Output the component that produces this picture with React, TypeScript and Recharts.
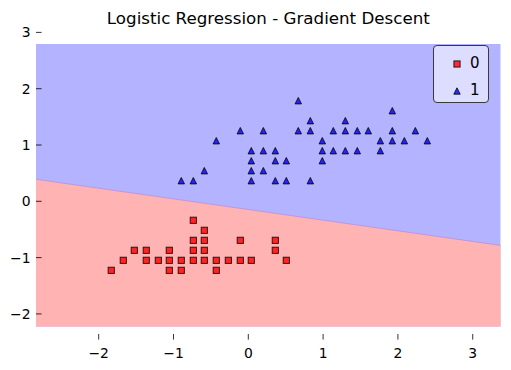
import React from "react";
import { ComposedChart, Area, Scatter, XAxis, YAxis } from "recharts";

// decision region extent (meshgrid range) and the boundary
const meshX = [-2.838, 3.374];
const meshTop = 2.794;
const meshBottom = -2.227;
const boundaryY = [0.391, -0.783];

const xTicks = [-2, -1, 0, 1, 2, 3];
const yTicks = [-2, -1, 0, 1, 2, 3];
const legendLabels = ["0", "1"];

// class 0 (squares)
const class0X = [
  -0.735, -0.588, -0.735, -0.588, -0.107, 0.361, -1.524, -1.364, -1.056,
  -0.735, -0.588, 0.361, -1.671, -1.364, -1.203, -1.056, -0.896, -0.735,
  -0.588, -0.428, -0.267, -0.107, 0.04, 0.508, -1.832, -1.056, -0.896, -0.428,
];
const class0Y = [
  -0.337, -0.515, -0.693, -0.693, -0.693, -0.693, -0.87, -0.87, -0.87, -0.87,
  -0.87, -0.87, -1.048, -1.048, -1.048, -1.048, -1.048, -1.048, -1.048,
  -1.048, -1.048, -1.048, -1.048, -1.048, -1.226, -1.226, -1.226, -1.226,
];

// class 1 (triangles)
const class1X = [
  0.668, 1.925, 0.829, 1.297, -0.107, 0.201, 0.668, 0.829, 1.136, 1.297,
  1.457, 1.604, 1.925, 2.233, -0.428, 0.989, 1.765, 1.925, 2.086, 2.393,
  0.04, 0.201, 0.361, 0.989, 1.136, 1.297, 1.457, 1.765, 0.04, 0.361, 0.508,
  0.989, -0.588, 0.04, 0.201, -0.896, -0.735, 0.04, 0.361, 0.508, 0.829,
];
const class1Y = [
  1.787, 1.609, 1.432, 1.432, 1.254, 1.254, 1.254, 1.254, 1.254, 1.254,
  1.254, 1.254, 1.254, 1.254, 1.076, 1.076, 1.076, 1.076, 1.076, 1.076,
  0.899, 0.899, 0.899, 0.899, 0.899, 0.899, 0.899, 0.899, 0.721, 0.721, 0.721,
  0.721, 0.544, 0.544, 0.544, 0.366, 0.366, 0.366, 0.366, 0.366, 0.366,
];

const regionData = meshX.map((x, i) => ({ x, top: meshTop, boundary: boundaryY[i] }));
const class0 = class0X.map((x, i) => ({ x, y: class0Y[i] }));
const class1 = class1X.map((x, i) => ({ x, y: class1Y[i] }));

const FONT = "DejaVu Sans, Verdana, sans-serif";
const fmt = (v: number) => (v < 0 ? `\u2212${Math.abs(v)}` : `${v}`);

const Square = (props: any) => {
  const { cx, cy } = props;
  return (
    <rect
      x={cx - 3.1}
      y={cy - 3.1}
      width={6.2}
      height={6.2}
      fill="red"
      fillOpacity={0.8}
      stroke="#000"
      strokeOpacity={0.8}
      strokeWidth={1}
    />
  );
};

const Triangle = (props: any) => {
  const { cx, cy } = props;
  return (
    <polygon
      points={`${cx},${cy - 3.2} ${cx - 3.2},${cy + 3.2} ${cx + 3.2},${cy + 3.2}`}
      fill="blue"
      fillOpacity={0.8}
      stroke="#000"
      strokeOpacity={0.8}
      strokeWidth={1}
    />
  );
};

const YTick = (props: any) => {
  const { x, y, payload } = props;
  return (
    <g>
      <line x1={x} x2={x + 5.6} y1={y} y2={y} stroke="#000" strokeWidth={0.8} />
      <text x={x - 5.5} y={y} dy={5} textAnchor="end" fontSize={13.9} fontFamily={FONT} fill="#000">
        {fmt(payload.value)}
      </text>
    </g>
  );
};

const XTick = (props: any) => {
  const { x, y, payload } = props;
  return (
    <g>
      <line x1={x} x2={x} y1={y + 7.3} y2={y + 12.9} stroke="#000" strokeWidth={0.8} />
      <text x={x} y={y + 31} textAnchor="middle" fontSize={13.9} fontFamily={FONT} fill="#000">
        {fmt(payload.value)}
      </text>
    </g>
  );
};

function LegendBox() {
  return (
    <div
      style={{
        position: "absolute",
        left: 432.5,
        top: 45,
        width: 54,
        height: 56,
        border: "1px solid #3a3a3a",
        borderRadius: 4,
        background: "rgba(255,255,255,0.55)",
        fontFamily: FONT,
        fontSize: 15,
      }}
    >
      {legendLabels.map((label, i) => (
        <div key={label} style={{ position: "absolute", left: 0, top: 6 + i * 27.3, height: 22, width: 54 }}>
          <svg width={14} height={14} style={{ position: "absolute", left: 16, top: 4.5 }}>
            {i === 0 ? <Square cx={7} cy={7} /> : <Triangle cx={7} cy={7} />}
          </svg>
          <span style={{ position: "absolute", left: 36.5, top: 1, lineHeight: "20px", color: "#000" }}>{label}</span>
        </div>
      ))}
    </div>
  );
}

export default function App() {
  return (
    <div style={{ position: "relative", width: 511, height: 370, background: "#fff" }}>
      <style>{`body{margin:0}`}</style>
      <div
        style={{
          position: "absolute",
          left: 36,
          width: 464.7,
          top: 7.5,
          textAlign: "center",
          fontFamily: FONT,
          fontSize: 16.7,
          lineHeight: "20px",
          color: "#000",
        }}
      >
        Logistic Regression - Gradient Descent
      </div>
      <ComposedChart
        width={511}
        height={370}
        data={regionData}
        margin={{ top: 32.4, right: 10.3, bottom: 0, left: 0 }}
      >
        <Area
          type="linear"
          dataKey="top"
          baseValue={meshBottom}
          fill="#b3b3ff"
          fillOpacity={1}
          stroke="none"
          dot={false}
          activeDot={false}
          isAnimationActive={false}
        />
        <Area
          type="linear"
          dataKey="boundary"
          baseValue={meshBottom}
          fill="#ffb3b3"
          fillOpacity={1}
          stroke="#c496d6"
          strokeWidth={1}
          dot={false}
          activeDot={false}
          isAnimationActive={false}
        />
        <Scatter name="0" data={class0} dataKey="y" shape={<Square />} isAnimationActive={false} />
        <Scatter name="1" data={class1} dataKey="y" shape={<Triangle />} isAnimationActive={false} />
        <XAxis
          type="number"
          dataKey="x"
          domain={meshX}
          ticks={xTicks}
          interval={0}
          axisLine={false}
          tickLine={false}
          tickSize={0}
          tickMargin={0}
          height={43.3}
          tick={<XTick />}
          allowDataOverflow
        />
        <YAxis
          type="number"
          domain={[meshBottom, 3]}
          ticks={yTicks}
          interval={0}
          axisLine={false}
          tickLine={false}
          tickSize={0}
          tickMargin={0}
          width={36}
          tick={<YTick />}
          allowDataOverflow
        />
      </ComposedChart>
      <LegendBox />
    </div>
  );
}
